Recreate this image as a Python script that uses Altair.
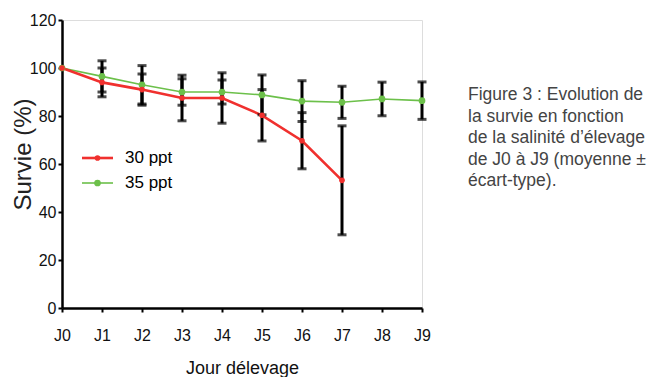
import altair as alt
import pandas as pd

days = [0, 1, 2, 3, 4, 5, 6, 7, 8, 9]
s30_days = [0, 1, 2, 3, 4, 5, 6, 7]
s30_mean = [100, 94, 91, 87.5, 87.5, 80.3, 69.7, 53.2]
s30_sd = [0, 6, 6.5, 9.5, 10.5, 10.7, 11.7, 22.7]
s35_mean = [100, 96.5, 93, 90, 90, 88.8, 86.2, 85.7, 87.1, 86.4]
s35_sd = [0, 6.5, 8, 5.5, 5, 8.3, 8.5, 6.7, 7, 7.8]
series = ["30 ppt", "35 ppt"]
colors = ["#f0302e", "#6cc04a"]
caption = ["Figure 3 : Evolution de", "la survie en fonction",
           "de la salinité d\u2019élevage", "de J0 à J9 (moyenne ±",
           "écart-type)."]

rows = []
for d, m, s in zip(s30_days, s30_mean, s30_sd):
    rows.append({"day": d, "serie": series[0], "mean": m, "lo": m - s, "hi": m + s, "sd": s})
for d, m, s in zip(days, s35_mean, s35_sd):
    rows.append({"day": d, "serie": series[1], "mean": m, "lo": m - s, "hi": m + s, "sd": s})
df = pd.DataFrame(rows)

xs = alt.Scale(domain=[0, 9], nice=False)
ys = alt.Scale(domain=[0, 120], nice=False)

FONT = "Liberation Sans"

x_axis = alt.Axis(values=days, labelExpr="'J' + datum.value", title="Jour délevage",
                  grid=False, domainColor="black", domainWidth=2.5, tickColor="black",
                  tickWidth=2, tickSize=4, labelFont=FONT, labelFontSize=16,
                  labelColor="#111", labelPadding=15, labelOverlap=False,
                  labelFlush=False, labelBound=False,
                  titleFont=FONT, titleFontSize=18,
                  titleFontWeight="normal", titleColor="#111", titleY=65,
                  titleBaseline="alphabetic")
y_axis = alt.Axis(values=[0, 20, 40, 60, 80, 100, 120], title="Survie (%)",
                  grid=False, domainColor="black", domainWidth=2.5, tickColor="black",
                  tickWidth=2, tickSize=4, labelFont=FONT, labelFontSize=16,
                  labelColor="#111", labelPadding=2, labelOverlap=False,
                  labelFlush=False,
                  titleFont=FONT, titleFontSize=24, titleFontWeight="normal",
                  titleColor="#222", titleX=-39, titleY=134, titleAngle=-90,
                  titleBaseline="middle", titleAlign="center")

X = alt.X("day:Q", scale=xs, axis=x_axis)

base = alt.Chart(df)

lines = []
for name, col, w in [(series[1], colors[1], 1.6), (series[0], colors[0], 2.6)]:
    lines.append(
        base.transform_filter(alt.datum.serie == name)
        .mark_line(color=col, strokeWidth=w)
        .encode(x=X, y=alt.Y("mean:Q", scale=ys, axis=y_axis))
    )

eb = base.transform_filter(alt.datum.sd > 0)
rules = eb.mark_rule(color="black", strokeWidth=3).encode(
    x=X, y=alt.Y("lo:Q", scale=ys, axis=y_axis), y2="hi:Q")
cap_lo = eb.mark_tick(color="black", thickness=3, size=9, orient="horizontal").encode(
    x=X, y=alt.Y("lo:Q", scale=ys, axis=y_axis))
cap_hi = eb.mark_tick(color="black", thickness=3, size=9, orient="horizontal").encode(
    x=X, y=alt.Y("hi:Q", scale=ys, axis=y_axis))

points = []
for name, col, sz in [(series[1], colors[1], 45), (series[0], colors[0], 32)]:
    points.append(
        base.transform_filter(alt.datum.serie == name)
        .mark_point(filled=True, color=col, size=sz, opacity=1)
        .encode(x=X, y=alt.Y("mean:Q", scale=ys, axis=y_axis))
    )

# manual legend (pixel positions)
leg = []
for i, (name, col, w, sz) in enumerate([(series[0], colors[0], 2.6, 32), (series[1], colors[1], 1.6, 45)]):
    yy = 138 + i * 25
    one = alt.Chart(pd.DataFrame({"serie": [name]}))
    leg.append(one.mark_rule(color=col, strokeWidth=w).encode(
        x=alt.value(20), x2=alt.value(51), y=alt.value(yy)))
    leg.append(one.mark_point(filled=True, color=col, size=sz, opacity=1).encode(
        x=alt.value(35.5), y=alt.value(yy)))
    leg.append(one.mark_text(align="left", baseline="middle", font=FONT, fontSize=17,
                             color="#000").encode(
        x=alt.value(63), y=alt.value(yy), text="serie:N"))

cap = alt.Chart(pd.DataFrame({"t": ["\n".join(caption)]})).mark_text(
    align="left", baseline="top", font=FONT, fontSize=17.5, lineHeight=21.5,
    color="#444", lineBreak="\n").encode(x=alt.value(406), y=alt.value(66), text="t:N")

chart = alt.layer(*lines, rules, cap_lo, cap_hi, *points, *leg, cap).properties(
    width=360, height=288, autosize="none",
    padding={"left": 54, "top": 12, "right": 227, "bottom": 69},
).configure_view(stroke=None).configure(background="white")

chart.save("out.html", embed_options={"renderer": "svg", "actions": False})
